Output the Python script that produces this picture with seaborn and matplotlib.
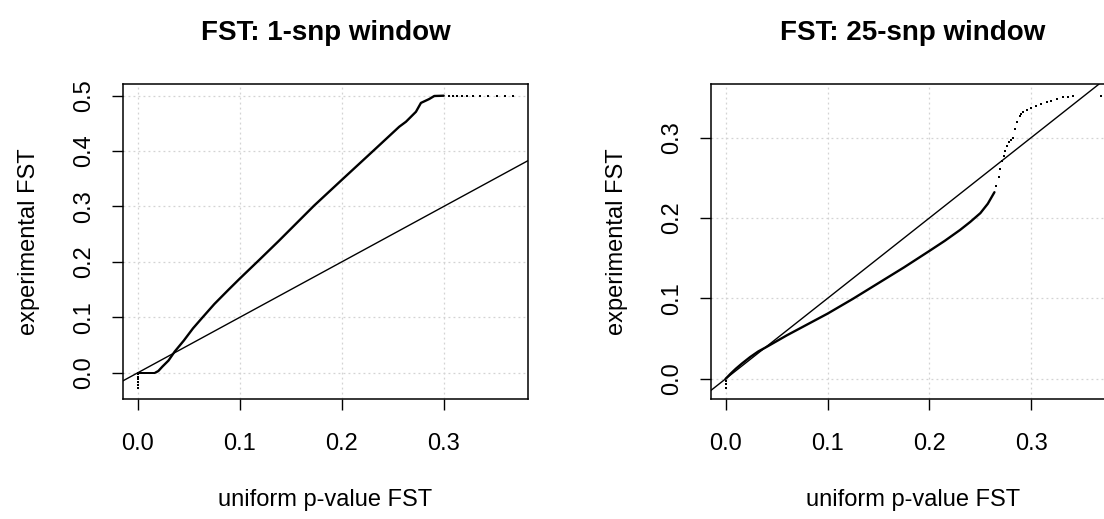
import numpy as np
import pandas as pd
import matplotlib
matplotlib.use("Agg")
import matplotlib.pyplot as plt
import seaborn as sns

# ---- 1-snp window: quantiles of uniform p-value FST vs experimental FST ----
snp1_line_x = [0.017, 0.020, 0.024, 0.030, 0.036, 0.045, 0.054, 0.063, 0.075,
               0.089, 0.100, 0.1187, 0.138, 0.1728, 0.2006, 0.2318, 0.2564,
               0.263, 0.2728, 0.2777, 0.2858, 0.2908, 0.300]
snp1_line_y = [0.000, 0.003, 0.011, 0.022, 0.038, 0.058, 0.080, 0.099, 0.124,
               0.150, 0.170, 0.203, 0.2375, 0.3015, 0.349, 0.402, 0.444,
               0.453, 0.471, 0.487, 0.494, 0.4995, 0.500]
# sparse quantiles (drawn as single points)
snp1_dot_x = [0.0, 0.0, 0.0, 0.0, 0.0, 0.0, 0.0,
              0.002, 0.004, 0.006, 0.008, 0.010, 0.012, 0.014, 0.016,
              0.305, 0.309, 0.313, 0.318, 0.323, 0.329, 0.336, 0.344,
              0.352, 0.360, 0.368]
snp1_dot_y = [-0.027, -0.022, -0.017, -0.012, -0.007, -0.003, 0.0,
              0.0, 0.0, 0.0, 0.0, 0.0, 0.0, 0.0, 0.0,
              0.5, 0.5, 0.5, 0.5, 0.5, 0.5, 0.5, 0.5,
              0.5, 0.5, 0.5]

# ---- 25-snp window ----
snp25_line_x = [0.0, 0.005, 0.010, 0.016, 0.024, 0.032, 0.040, 0.060, 0.080,
                0.100, 0.125, 0.150, 0.175, 0.200, 0.215, 0.230, 0.240, 0.250,
                0.2573, 0.2638]
snp25_line_y = [0.0, 0.0065, 0.0125, 0.019, 0.027, 0.034, 0.0395, 0.054,
                0.0675, 0.081, 0.0995, 0.119, 0.1385, 0.159, 0.1715, 0.185,
                0.195, 0.206, 0.2177, 0.232]
snp25_dot_x = [0.0, 0.0, 0.0,
               0.2655, 0.2678, 0.2695, 0.2711, 0.2727, 0.2743, 0.2760, 0.2780,
               0.2800, 0.2819, 0.2835, 0.2860, 0.2884, 0.2900, 0.2917, 0.2960,
               0.300, 0.305, 0.3097, 0.315, 0.3196, 0.325, 0.331, 0.336,
               0.3408, 0.368]
snp25_dot_y = [-0.011, -0.007, -0.003,
               0.240, 0.2507, 0.261, 0.2714, 0.2776, 0.2838, 0.289, 0.294,
               0.297, 0.300, 0.3106, 0.319, 0.327, 0.329, 0.3312, 0.334,
               0.3367, 0.339, 0.3416, 0.344, 0.3457, 0.348, 0.350, 0.3505,
               0.351, 0.3519]

titles = ["FST: 1-snp window", "FST: 25-snp window"]
x_ticks = [0.0, 0.1, 0.2, 0.3]
y_ticks_1 = [0.0, 0.1, 0.2, 0.3, 0.4, 0.5]
y_ticks_25 = [0.0, 0.1, 0.2, 0.3]
x_label = "uniform p-value FST"
y_label = "experimental FST"

sns.set_theme(style="white")
plt.rcParams["font.family"] = ["Liberation Sans", "DejaVu Sans"]
plt.rcParams["text.color"] = "black"
plt.rcParams["axes.labelcolor"] = "black"

fig = plt.figure(figsize=(11.04, 5.19), dpi=100)
ax1 = fig.add_axes([0.1114, 0.2306, 0.3668, 0.6075])
ax2 = fig.add_axes([0.6437, 0.2306, 0.3668, 0.6075])

panels = [
    (ax1, snp1_line_x, snp1_line_y, snp1_dot_x, snp1_dot_y, y_ticks_1,
     (-0.0147, 0.3827), (-0.0481, 0.5211), titles[0]),
    (ax2, snp25_line_x, snp25_line_y, snp25_dot_x, snp25_dot_y, y_ticks_25,
     (-0.0147, 0.3827), (-0.0255, 0.3665), titles[1]),
]

for ax, lx, ly, dx, dy, yt, xl, yl, title in panels:
    line_df = pd.DataFrame({"x": lx, "y": ly})
    dot_df = pd.DataFrame({"x": dx, "y": dy})
    sns.lineplot(data=line_df, x="x", y="y", sort=False, color="black",
                 linewidth=1.7, ax=ax)
    sns.scatterplot(data=dot_df, x="x", y="y", color="black", marker="s",
                    s=2.5, linewidth=0, ax=ax)
    ax.axline((0, 0), slope=1, color="black", linewidth=1.0)

    ax.set_xlim(*xl)
    ax.set_ylim(*yl)
    ax.set_xticks(x_ticks)
    ax.set_yticks(yt)
    ax.set_xticklabels([f"{v:.1f}" for v in x_ticks])
    ax.set_yticklabels([f"{v:.1f}" for v in yt], rotation=90, va="center")
    ax.grid(True, color="lightgray", linestyle=(0, (1.5, 2.5)), linewidth=0.9)
    ax.set_axisbelow(True)
    for sp in ax.spines.values():
        sp.set_color("black")
        sp.set_linewidth(1.1)
    ax.tick_params(axis="both", direction="out", length=8, width=1.0,
                   color="black", labelsize=17, labelcolor="black",
                   bottom=True, left=True)
    ax.tick_params(axis="x", pad=16)
    ax.tick_params(axis="y", pad=12)
    ax.set_xlabel(x_label, fontsize=17, labelpad=25, color="black")
    ax.set_ylabel(y_label, fontsize=17, labelpad=24, color="black")
    ax.set_title(title, fontsize=20, fontweight="bold", pad=32, color="black")

fig.savefig("out.png", dpi=100)
